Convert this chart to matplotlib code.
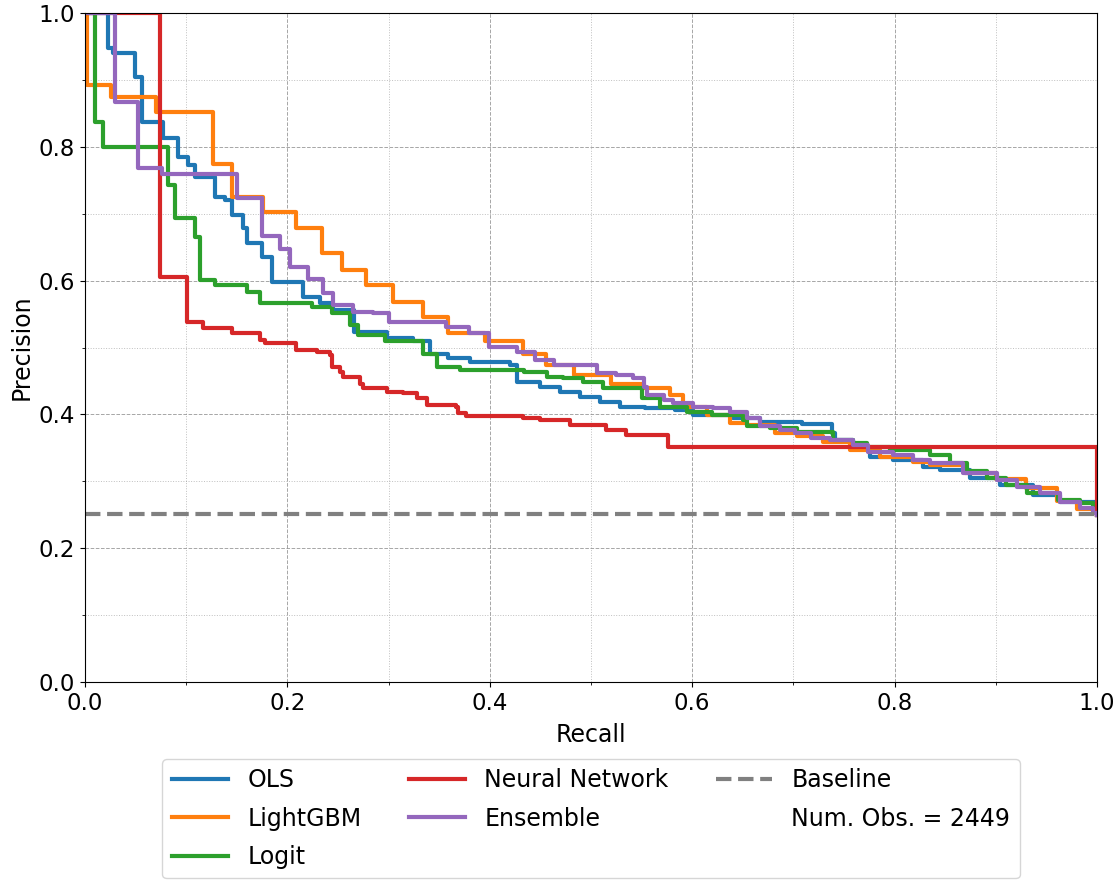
import matplotlib.pyplot as plt
from matplotlib.ticker import MultipleLocator

# recall breakpoints / precision levels (drawn as post-steps)
ols_r = [0.0, 0.023, 0.028, 0.049, 0.056, 0.0774, 0.0922, 0.102, 0.1087, 0.1285, 0.138, 0.145,
         0.1564, 0.160, 0.1746, 0.1845, 0.2157, 0.232, 0.2454, 0.266, 0.298, 0.3244, 0.341,
         0.3587, 0.380, 0.420, 0.427, 0.4496, 0.469, 0.489, 0.509, 0.529, 0.553, 0.583, 0.601,
         0.640, 0.667, 0.7085, 0.738, 0.741, 0.759, 0.7757, 0.798, 0.828, 0.845, 0.875, 0.904,
         0.937, 0.963, 1.0]
ols_p = [1.0, 0.947, 0.940, 0.905, 0.8375, 0.813, 0.785, 0.773, 0.755, 0.725, 0.720, 0.698,
         0.678, 0.656, 0.636, 0.598, 0.576, 0.566, 0.556, 0.5236, 0.514, 0.509, 0.491,
         0.484, 0.478, 0.474, 0.448, 0.441, 0.434, 0.426, 0.419, 0.4115, 0.409, 0.4066, 0.399,
         0.394, 0.389, 0.385, 0.372, 0.362, 0.350, 0.337, 0.332, 0.322, 0.317, 0.305, 0.294,
         0.280, 0.2695, 0.25]

lgbm_r = [0.0, 0.002, 0.026, 0.070, 0.127, 0.145, 0.176, 0.209, 0.234, 0.254, 0.278, 0.304,
          0.334, 0.359, 0.395, 0.433, 0.456, 0.483, 0.520, 0.552, 0.578, 0.591, 0.615, 0.637,
          0.654, 0.682, 0.704, 0.729, 0.756, 0.786, 0.818, 0.835, 0.87, 0.90, 0.93, 0.96,
          0.98, 1.0]
lgbm_p = [1.0, 0.892, 0.875, 0.852, 0.775, 0.725, 0.703, 0.678, 0.641, 0.616, 0.593, 0.568,
          0.546, 0.521, 0.509, 0.491, 0.474, 0.459, 0.446, 0.4395, 0.429, 0.4115, 0.399, 0.387,
          0.384, 0.372, 0.367, 0.359, 0.347, 0.337, 0.329, 0.324, 0.312, 0.303, 0.290, 0.270,
          0.258, 0.25]

logit_r = [0.0, 0.0099, 0.018, 0.0823, 0.089, 0.1087, 0.1136, 0.1285, 0.1598, 0.1729, 0.224,
           0.2438, 0.262, 0.2697, 0.2964, 0.334, 0.3475, 0.3706, 0.4334, 0.4563, 0.4723, 0.492,
           0.5118, 0.550, 0.568, 0.5946, 0.62, 0.650, 0.654, 0.677, 0.704, 0.739, 0.759, 0.773,
           0.795, 0.835, 0.855, 0.872, 0.891, 0.91, 0.931, 0.961, 0.983, 0.996, 1.0]
logit_p = [1.0, 0.8375, 0.800, 0.743, 0.693, 0.665, 0.601, 0.593, 0.583, 0.566, 0.561,
           0.551, 0.534, 0.519, 0.509, 0.491, 0.471, 0.466, 0.464, 0.456, 0.454, 0.449,
           0.439, 0.4245, 0.4115, 0.404, 0.399, 0.392, 0.382, 0.379, 0.374, 0.362, 0.357, 0.352,
           0.347, 0.339, 0.327, 0.315, 0.305, 0.295, 0.282, 0.272, 0.267, 0.255, 0.25]

nn_r = [0.0, 0.0741, 0.1004, 0.1166, 0.145, 0.173, 0.178, 0.209, 0.229, 0.242, 0.244, 0.252,
        0.255, 0.272, 0.275, 0.298, 0.314, 0.328, 0.338, 0.367, 0.369, 0.377, 0.433, 0.45,
        0.479, 0.515, 0.535, 0.576, 1.0]
nn_p = [1.0, 0.606, 0.5386, 0.529, 0.521, 0.511, 0.507, 0.496, 0.494, 0.489, 0.471, 0.464,
        0.456, 0.446, 0.439, 0.434, 0.432, 0.424, 0.414, 0.4115, 0.402, 0.397, 0.3946, 0.391,
        0.384, 0.3767, 0.369, 0.352, 0.25]

ens_r = [0.0, 0.0296, 0.0527, 0.0758, 0.150, 0.1746, 0.1927, 0.2026, 0.2206, 0.2354, 0.2454,
         0.265, 0.285, 0.300, 0.357, 0.379, 0.399, 0.427, 0.445, 0.463, 0.506, 0.525, 0.542,
         0.552, 0.555, 0.572, 0.581, 0.601, 0.621, 0.637, 0.654, 0.667, 0.687, 0.702, 0.717,
         0.736, 0.759, 0.774, 0.798, 0.818, 0.835, 0.868, 0.901, 0.921, 0.944, 0.963, 0.983,
         0.996, 1.0]
ens_p = [1.0, 0.8675, 0.768, 0.760, 0.723, 0.666, 0.648, 0.621, 0.603, 0.581, 0.5635,
         0.5535, 0.551, 0.5386, 0.531, 0.521, 0.501, 0.494, 0.481, 0.474, 0.4615, 0.459, 0.454,
         0.441, 0.429, 0.4215, 0.417, 0.4115, 0.409, 0.404, 0.394, 0.382, 0.377, 0.372, 0.364,
         0.362, 0.354, 0.344, 0.339, 0.332, 0.327, 0.312, 0.302, 0.292, 0.282, 0.2695, 0.2596,
         0.2526, 0.25]

baseline = 0.251
n_obs = 2449

plt.rcParams['font.size'] = 16.5

fig = plt.figure(figsize=(11.18, 8.8), dpi=100)
ax = fig.add_axes([0.076, 0.225, 0.9052, 0.7602])

ax.step(ols_r, ols_p, where='post', lw=3, color='tab:blue', label='OLS')
ax.step(lgbm_r, lgbm_p, where='post', lw=3, color='tab:orange', label='LightGBM')
ax.step(logit_r, logit_p, where='post', lw=3, color='tab:green', label='Logit')
ax.step(nn_r, nn_p, where='post', lw=3, color='tab:red', label='Neural Network')
ax.step(ens_r, ens_p, where='post', lw=3, color='tab:purple', label='Ensemble')
ax.axhline(baseline, color='gray', ls='--', lw=3, label='Baseline')
ax.plot([], [], ' ', label=f'Num. Obs. = {n_obs}')

ax.set_xlim(0, 1)
ax.set_ylim(0, 1)
ax.xaxis.set_major_locator(MultipleLocator(0.2))
ax.yaxis.set_major_locator(MultipleLocator(0.2))
ax.xaxis.set_minor_locator(MultipleLocator(0.1))
ax.yaxis.set_minor_locator(MultipleLocator(0.1))
ax.grid(which='major', ls='--', color='gray', lw=0.7, alpha=0.7)
ax.grid(which='minor', ls=':', color='gray', lw=0.7, alpha=0.5)

ax.set_xlabel('Recall', fontsize=17, labelpad=6)
ax.set_ylabel('Precision', fontsize=17)

fig.legend(loc='upper center', bbox_to_anchor=(0.5286, 0.1375), ncol=3, fontsize=17,
           handlelength=2.4, labelspacing=0.6, borderaxespad=0.0)

fig.savefig('out.png', dpi=100)
